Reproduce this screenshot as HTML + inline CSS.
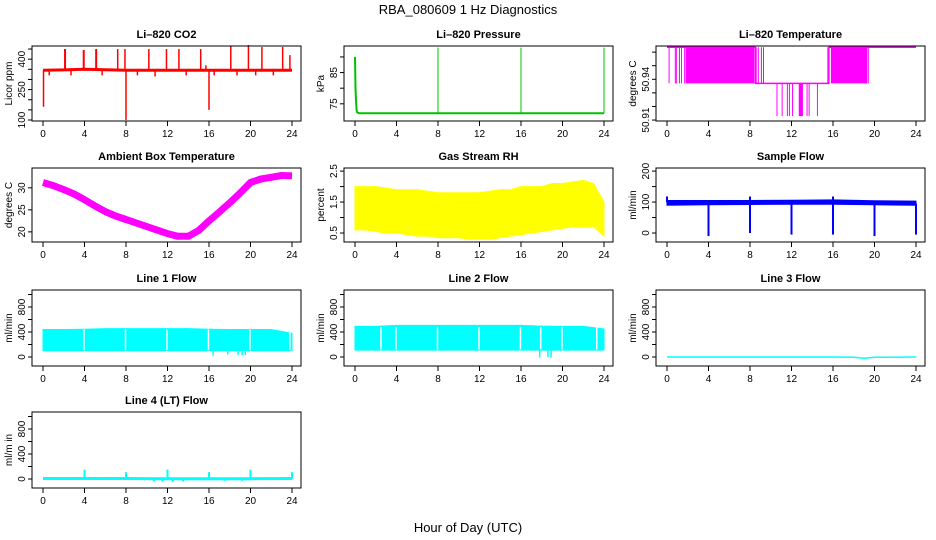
<!DOCTYPE html>
<html><head><meta charset="utf-8"><style>
html,body{margin:0;padding:0;background:#fff;}
svg{display:block;font-family:"Liberation Sans",Arial,sans-serif;}
</style></head><body>
<svg id="chart" width="936" height="540" viewBox="0 0 936 540">
<text x="468" y="14" text-anchor="middle" font-size="13">RBA_080609  1 Hz Diagnostics</text>
<text x="468" y="532" text-anchor="middle" font-size="13">Hour of Day (UTC)</text>
</svg>
<script>
// ---- data ----
const xTicks = [0,4,8,12,16,20,24];
const co2BaseHr = [0,2,4,6,8,10,12,14,16,18,20,22,24];
const co2BaseVal = [345,347,350,348,345,345,345,345,345,345,345,345,345];
const co2SpikeHr = [0.05,2.1,2.15,3.9,3.95,5.1,5.15,7.2,7.9,8.0,10.2,11.9,13.1,15.2,15.7,16.0,18.1,19.8,21.1,23.1,23.8];
const co2SpikeVal = [165,450,450,445,445,450,450,450,450,100,450,450,450,450,370,150,465,470,460,460,420];
const co2DipHr = [0.6,2.7,5.7,9.1,10.8,13.8,16.5,18.7,20.5,22.2];
const co2DipVal = [320,320,320,320,315,320,320,320,320,320];
const pressHr = [0,0.05,0.1,0.15,0.2,0.4,4,8,12,16,20,24];
const pressVal = [90,80,76,73,72.3,72,72,72,72,72,72,72];
const pressSpikeHr = [8,16,24];
const pressSpikeVal = [93,93,93];
const TOP = 50.9636, MID = 50.937, LOW = 50.9129;
const tempPathHr = [0,8.5,8.5,15.6,15.6,24];
const tempPathVal = [TOP,TOP,MID,MID,TOP,TOP];
const tempBlockStart = [1.8,15.8,12.7];
const tempBlockEnd = [8.4,19.3,13.1];
const tempBlockLow = [MID,MID,LOW];
const tempBlockHigh = [TOP,TOP,MID];
const tempLineHr = [0.2,0.8,0.9,1.2,1.4,1.7,8.6,8.8,9.1,9.3,15.5,19.4,10.6,11.1,11.6,11.8,12.1,13.5,13.7,14.5];
const tempLineLow = [MID,MID,MID,MID,MID,MID,MID,MID,MID,MID,MID,MID,LOW,LOW,LOW,LOW,LOW,LOW,LOW,LOW];
const tempLineHigh = [TOP,TOP,TOP,TOP,TOP,TOP,TOP,TOP,TOP,TOP,TOP,TOP,MID,MID,MID,MID,MID,MID,MID,MID];
const ambHr = [0,1,2,3,4,5,6,7,8,9,10,11,12,13,14,15,16,17,18,19,20,21,22,23,24];
const ambVal = [31.2,30.5,29.6,28.6,27.3,25.9,24.6,23.6,22.8,22.0,21.2,20.4,19.6,19.0,19.0,20.3,22.5,24.5,26.6,28.8,31.2,32.0,32.4,32.8,32.7];
const rhHr = [0,1,2,3,4,5,6,7,8,9,10,11,12,13,14,15,16,17,18,19,20,21,22,23,24];
const rhHigh = [2.0,2.0,2.0,1.95,1.9,1.9,1.9,1.85,1.8,1.8,1.8,1.8,1.8,1.85,1.9,1.9,2.0,2.0,2.0,2.1,2.1,2.15,2.2,2.1,1.5];
const rhLow = [0.6,0.6,0.55,0.5,0.5,0.45,0.4,0.4,0.35,0.35,0.35,0.3,0.3,0.3,0.35,0.4,0.45,0.5,0.55,0.6,0.65,0.7,0.7,0.7,0.4];
const sfHr = [0,4,8,12,16,20,24];
const sfHigh = [105,105,105,106,107,104,103];
const sfLow = [90,91,92,93,93,91,90];
const sfDipHr = [4,8,12,16,20,24];
const sfDipVal = [-10,0,-5,-5,-10,-5];
const sfUpHr = [0,8,16];
const sfUpVal = [118,118,118];
const l1Hr = [0,2,4,6,8,10,12,14,16,18,20,22,24];
const l1High = [440,440,445,455,455,455,455,455,445,440,440,440,380];
const l1Low = [100,100,100,100,100,100,100,100,100,100,100,100,100];
const l1GapHr = [3.95,7.95,11.95,15.95,19.95,23.8];
const l1DipHr = [16.4,17.8,18.8,19.2,19.5];
const l1DipVal = [20,40,30,30,30];
const l2Hr = [0,2,4,6,8,10,12,14,16,18,20,22,24];
const l2High = [490,490,505,505,505,505,505,505,505,495,490,490,450];
const l2Low = [110,110,110,110,110,110,110,110,110,110,110,110,110];
const l2GapHr = [2.5,3.95,7.95,11.95,15.95,17.9,19.95,23.3];
const l2DipHr = [17.8,18.6,18.9];
const l2DipVal = [-10,0,-10];
const l3Hr = [0,4,8,12,16,18,19,20,24];
const l3Val = [0,0,0,0,0,-5,-20,-5,0];
const l4Hr = [0,4,8,12,16,20,24];
const l4Val = [8,8,8,5,5,5,8];
const l4SpikeHr = [4,8,12,16,20,24];
const l4SpikeVal = [150,110,150,110,150,110];
const l4DipHr = [10.7,11.5,12.5,13.5,17.5,19.2];
const l4DipVal = [-40,-40,-45,-40,-30,-30];

// ---- layout ----
const svg = document.getElementById('chart');
const NS = 'http://www.w3.org/2000/svg';
const cols = [{x0:43,x1:292,bl:32,br:301},{x0:355,x1:604,bl:344,br:613},{x0:667,x1:916,bl:656,br:925}];
const rows = [{t:46,b:121},{t:168,b:242},{t:290,b:366},{t:412,b:488}];
function mk(tag, attrs, parent){const e=document.createElementNS(NS,tag);for(const k in attrs)e.setAttribute(k,attrs[k]);(parent||svg).appendChild(e);return e;}

function panel(ci, ri, name, title, ylab, dom, ticks, labels){
  const c=cols[ci], r=rows[ri];
  const g=mk('g',{});
  
  
  const X=h=>c.x0+(h/24)*(c.x1-c.x0);
  const Y=v=>r.b-(v-dom[0])/(dom[1]-dom[0])*(r.b-r.t);
  const t=mk('text',{x:(c.bl+c.br)/2,y:r.t-8,'text-anchor':'middle','font-size':11,'font-weight':'bold'},g);
  t.textContent=title;
  
  
  xTicks.forEach(h=>{
    const tk=mk('line',{x1:X(h),x2:X(h),y1:r.b,y2:r.b+5,stroke:'#000'},g);
    
    
    const tl=mk('text',{x:X(h),y:r.b+16,'text-anchor':'middle','font-size':10},g);
    tl.textContent=h;
    
    
  });
  ticks.forEach(v=>{
    const tk=mk('line',{x1:c.bl-4,x2:c.bl,y1:Y(v),y2:Y(v),stroke:'#000'},g);
    
    
  });
  labels.forEach(v=>{
    const tl=mk('text',{x:0,y:0,'text-anchor':'middle','font-size':10,transform:`translate(${c.bl-7},${Y(v)}) rotate(-90)`},g);
    tl.textContent=v;
    
    
  });
  const yl=mk('text',{x:0,y:0,'text-anchor':'middle','font-size':10,transform:`translate(${c.bl-20},${(r.t+r.b)/2}) rotate(-90)`},g);
  yl.textContent=ylab;
  
  
  const plot=mk('g',{},g);
  
  
  const box=mk('rect',{x:c.bl,y:r.t,width:c.br-c.bl,height:r.b-r.t,fill:'none',stroke:'#000'},g);
  
  
  return {X,Y,g:plot};
}
function pathLine(p, hrs, vals, color, w, name){
  const d=hrs.map((h,i)=>(i?'L':'M')+p.X(h).toFixed(1)+','+p.Y(vals[i]).toFixed(1)).join('');
  const e=mk('path',{d,fill:'none',stroke:color,'stroke-width':w,'stroke-linejoin':'round'},p.g);
  
  
}
function spikes(p, hrs, from, vals, color, w, name){
  hrs.forEach((h,i)=>{
    const e=mk('line',{x1:p.X(h),x2:p.X(h),y1:p.Y(from[i]),y2:p.Y(vals[i]),stroke:color,'stroke-width':w},p.g);
    
    
  });
}
function band(p, hrs, hi, lo, color, name){
  const pts=hrs.map((h,i)=>p.X(h).toFixed(1)+','+p.Y(hi[i]).toFixed(1));
  for(let i=hrs.length-1;i>=0;i--) pts.push(p.X(hrs[i]).toFixed(1)+','+p.Y(lo[i]).toFixed(1));
  const e=mk('polygon',{points:pts.join(' '),fill:color,stroke:color,'stroke-width':1},p.g);
  
  
}
const rep=(n,v)=>Array(n).fill(v);

// CO2
let p=panel(0,0,'co2','Li\u2013820 CO2','Licor ppm',[95,465],[100,150,200,250,300,350,400,450],[100,250,400]);
pathLine(p,co2BaseHr,co2BaseVal,'#ff0000',3,'co2-line');
spikes(p,co2SpikeHr,rep(co2SpikeHr.length,345),co2SpikeVal,'#ff0000',1.5,'co2-spike');
spikes(p,co2DipHr,rep(co2DipHr.length,345),co2DipVal,'#ff0000',1.5,'co2-dip');
// Pressure
p=panel(1,0,'pressure','Li\u2013820 Pressure','kPa',[69.5,93.5],[75,80,85,90],[75,85]);
pathLine(p,pressHr,pressVal,'#00c000',2,'pressure-line');
spikes(p,pressSpikeHr,rep(3,72),pressSpikeVal,'#00c000',1,'pressure-spike');
// Temperature
p=panel(2,0,'li820-temp','Li\u2013820 Temperature','degrees C',[50.9093,50.9645],[50.91,50.92,50.93,50.94,50.95,50.96],['50.91','50.94']);
pathLine(p,tempPathHr,tempPathVal,'#ff00ff',1.5,'temp-line');
tempBlockStart.forEach((s,i)=>{
  const e=mk('rect',{x:p.X(s),y:p.Y(tempBlockHigh[i]),width:p.X(tempBlockEnd[i])-p.X(s),height:p.Y(tempBlockLow[i])-p.Y(tempBlockHigh[i]),fill:'#ff00ff'},p.g);
  
  
});
spikes(p,tempLineHr,tempLineLow,tempLineHigh,'#ff00ff',1,'temp-switch');
// Ambient
p=panel(0,1,'ambient','Ambient Box Temperature','degrees C',[17.7,34.5],[20,25,30],[20,25,30]);
pathLine(p,ambHr,ambVal,'#ff00ff',7,'ambient-line');
// RH
p=panel(1,1,'rh','Gas Stream RH','percent',[0.21,2.6],[0.5,1.0,1.5,2.0,2.5],['0.5','1.5','2.5']);
band(p,rhHr,rhHigh,rhLow,'#ffff00','rh-band');
// Sample flow
p=panel(2,1,'sample-flow','Sample Flow','ml/min',[-29,210],[0,50,100,150,200],[0,100,200]);
band(p,sfHr,sfHigh,sfLow,'#0000ff','sample-flow-band');
spikes(p,sfDipHr,rep(sfDipHr.length,95),sfDipVal,'#0000ff',2,'sample-flow-dip');
spikes(p,sfUpHr,rep(sfUpHr.length,100),sfUpVal,'#0000ff',2,'sample-flow-spike');
const fdom=[-144,1072], fticks=[0,200,400,600,800,1000], flab=[0,400,800];
// Line 1
p=panel(0,2,'line1','Line 1 Flow','ml/min',fdom,fticks,flab);
band(p,l1Hr,l1High,l1Low,'#00ffff','line1-band');
spikes(p,l1GapHr,rep(l1GapHr.length,110),rep(l1GapHr.length,440),'#ffffff',1.5,'line1-gap');
spikes(p,l1DipHr,rep(l1DipHr.length,100),l1DipVal,'#00ffff',1.5,'line1-dip');
// Line 2
p=panel(1,2,'line2','Line 2 Flow','ml/min',fdom,fticks,flab);
band(p,l2Hr,l2High,l2Low,'#00ffff','line2-band');
spikes(p,l2GapHr,rep(l2GapHr.length,120),rep(l2GapHr.length,480),'#ffffff',1.5,'line2-gap');
spikes(p,l2DipHr,rep(l2DipHr.length,110),l2DipVal,'#00ffff',1.5,'line2-dip');
// Line 3
p=panel(2,2,'line3','Line 3 Flow','ml/min',fdom,fticks,flab);
pathLine(p,l3Hr,l3Val,'#00ffff',1.5,'line3-line');
// Line 4
p=panel(0,3,'line4','Line 4 (LT) Flow','ml/m in',fdom,fticks,flab);
pathLine(p,l4Hr,l4Val,'#00ffff',3,'line4-line');
spikes(p,l4SpikeHr,rep(l4SpikeHr.length,5),l4SpikeVal,'#00ffff',2,'line4-spike');
spikes(p,l4DipHr,rep(l4DipHr.length,5),l4DipVal,'#00ffff',2,'line4-dip');
</script>
</body></html>
